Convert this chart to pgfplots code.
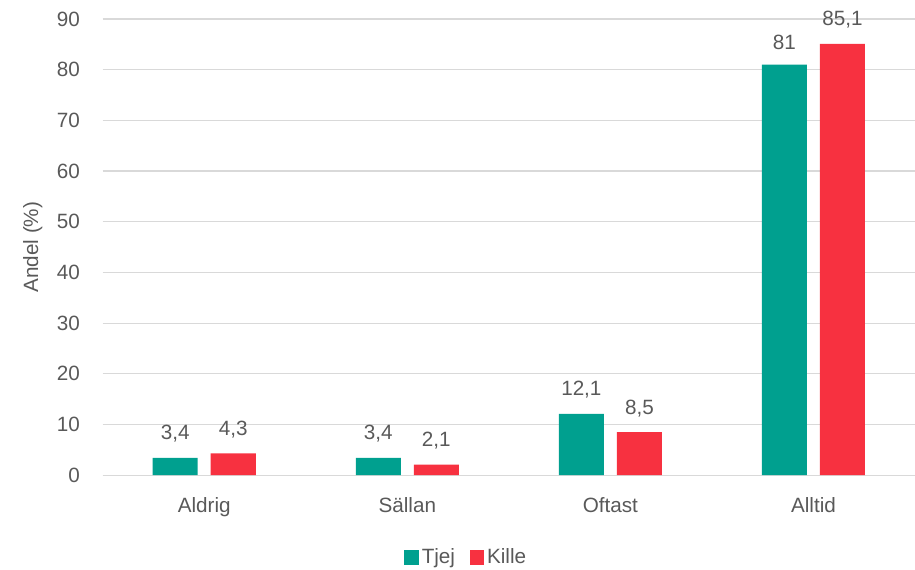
\documentclass[border=0pt]{standalone}
\usepackage{fontspec}
\setmainfont{Liberation Sans}
\usepackage{pgfplots}
\pgfplotsset{compat=1.18}

\definecolor{tjej}{RGB}{0,160,143}
\definecolor{kille}{RGB}{247,49,64}
\definecolor{txt}{RGB}{89,89,89}
\definecolor{gridc}{RGB}{217,217,217}

\begin{document}
\begin{tikzpicture}
  \begin{axis}[
    scale only axis,
    width=609pt, height=342pt,
    ybar, bar width=33.75pt,
    xmin=-0.5, xmax=3.5,
    ymin=0, ymax=90,
    ytick={0,10,...,90},
    xtick={0,1,2,3},
    xticklabels={Aldrig,Sällan,Oftast,Alltid},
    axis x line*=bottom,
    axis y line*=left,
    x axis line style={gridc, line width=0.9pt},
    y axis line style={draw=none},
    ymajorgrids,
    grid style={gridc, line width=0.9pt},
    major tick length=0pt,
    tick label style={txt, font=\fontsize{15.5}{18}\selectfont},
    /pgf/number format/assume math mode=true,
    yticklabel style={xshift=-13.5pt},
    xticklabel style={yshift=-13pt},
    ylabel={Andel (\%)},
    ylabel style={txt, font=\fontsize{15.5}{18}\selectfont, at={(axis description cs:-0.086,0.5)}, anchor=center},
    nodes near coords,
    nodes near coords style={txt, font=\fontsize{15.5}{18}\selectfont, /pgf/number format/use comma, /pgf/number format/assume math mode=true, yshift=8pt},
    legend style={at={(0.448,-0.18)}, anchor=center, draw=none, legend columns=-1,
      font=\fontsize{15.5}{18}\selectfont, text=txt,
      /tikz/every even column/.append style={column sep=9pt}},
    legend image code/.code={\fill[#1] (0pt,-5.5pt) rectangle (11pt,5.5pt);},
  ]
    \addplot[fill=tjej, draw=none, bar shift=-21.75pt] coordinates {(0,3.4) (1,3.4) (2,12.1) (3,81)};
    \addplot[fill=kille, draw=none, bar shift=21.75pt] coordinates {(0,4.3) (1,2.1) (2,8.5) (3,85.1)};
    \legend{Tjej,Kille}
  \end{axis}
  \pgfresetboundingbox
  \path (-77pt,-70.5pt) rectangle (609pt,356.25pt);
\end{tikzpicture}
\end{document}
